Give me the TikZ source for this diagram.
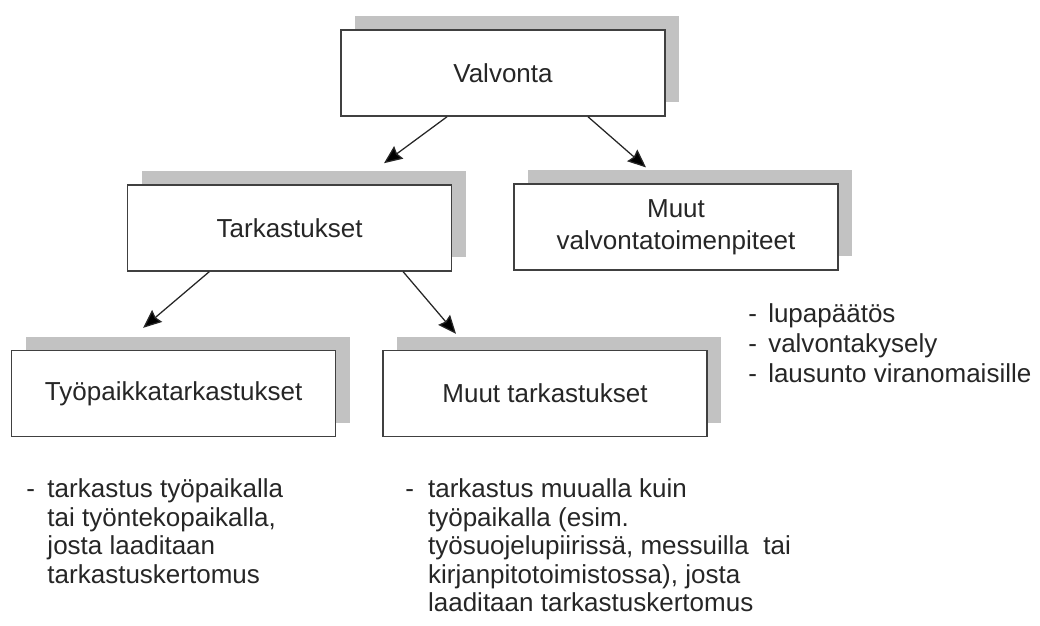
\documentclass[tikz,border=0pt]{standalone}
\usepackage{fontspec}
\setmainfont{Liberation Sans}
\usetikzlibrary{shadows,arrows.meta}

\begin{document}
\begin{tikzpicture}[scale=1,
  box/.style={draw=black!75, line width=1.1pt, fill=white, minimum width=8.1cm, minimum height=2.15cm,
    align=center, text=black!85, font=\fontsize{18.5}{22.8}\selectfont,
    general shadow={fill=black!24, shadow xshift=0.35cm, shadow yshift=0.35cm}},
  arr/.style={draw=black!85, line width=0.9pt, -{Stealth[length=13pt,width=11pt,inset=1.5pt,fill=black]}},
  list/.style={anchor=base west, inner sep=0pt, text=black!85, font=\fontsize{18.5}{20.2}\selectfont}]

\useasboundingbox (0,0) rectangle (26,15.65);

\node [box] (valvonta) at (12.575,13.825) {Valvonta};
\node [box] (tarkastukset) at (7.24,9.95) {Tarkastukset};
\node [box] (muutvalvonta) at (16.9,9.97) {Muut\\valvontatoimenpiteet};
\node [box] (tyopaikka) at (4.34,5.81) {Työpaikkatarkastukset};
\node [box] (muuttark) at (13.625,5.81) {Muut tarkastukset};

\draw [arr] ([xshift=-1.4cm]valvonta.south) -- ([xshift=2.36cm,yshift=0.525cm]tarkastukset.north);
\draw [arr] ([xshift=2.125cm]valvonta.south) -- ([xshift=-0.75cm,yshift=0.4cm]muutvalvonta.north);
\draw [arr] ([xshift=-2.01cm]tarkastukset.south) -- ([xshift=-0.76cm,yshift=0.55cm]tyopaikka.north);
\draw [arr] ([xshift=2.84cm]tarkastukset.south) -- ([xshift=-2.225cm,yshift=0.4cm]muuttark.north);

\node [list, font=\fontsize{18.5}{21.3}\selectfont] (toimet) at (18.7,7.575)
  {\begin{tabular}[t]{@{}p{0.5cm}@{}l@{}}
   - & lupapäätös\\
   - & valvontakysely\\
   - & lausunto viranomaisille
   \end{tabular}};

\node [list] (tyopaikkateksti) at (0.65,3.2)
  {\begin{tabular}[t]{@{}p{0.53cm}@{}l@{}}
   - & tarkastus työpaikalla\\
     & tai työntekopaikalla,\\
     & josta laaditaan\\
     & tarkastuskertomus
   \end{tabular}};

\node [list] (muutteksti) at (10.125,3.2)
  {\begin{tabular}[t]{@{}p{0.57cm}@{}l@{}}
   - & tarkastus muualla kuin\\
     & työpaikalla (esim.\\
     & työsuojelupiirissä, messuilla~ tai\\
     & kirjanpitotoimistossa), josta\\
     & laaditaan tarkastuskertomus
   \end{tabular}};

\end{tikzpicture}
\end{document}
